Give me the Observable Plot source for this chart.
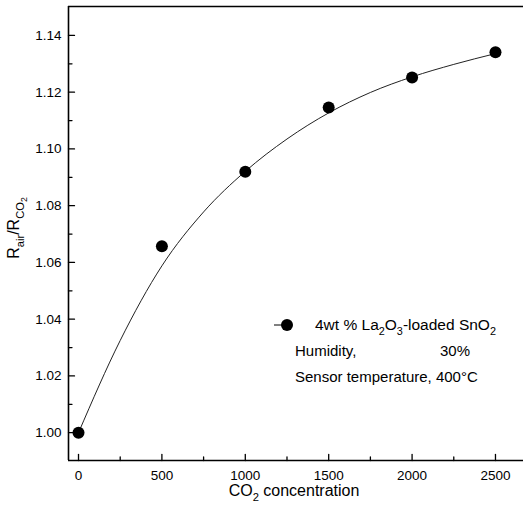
<!DOCTYPE html>
<html><head><meta charset="utf-8">
<script src="https://cdn.jsdelivr.net/npm/d3@7"></script>
<script src="https://cdn.jsdelivr.net/npm/@observablehq/plot@0.6"></script>
<style>body{margin:0;background:#fff} svg{display:block}</style>
</head><body><div id="chart"></div>
<script>
// Measured data points
const concentration = [0, 500, 1000, 1500, 2000, 2500];
const ratio = [1.000, 1.0657, 1.0920, 1.1146, 1.1252, 1.1341];
// Fitted curve
const fitConcentration = [0, 250, 500, 750, 1000, 1250, 1500, 1750, 2000, 2250, 2500];
const fitRatio = [1.000, 1.0325, 1.0588, 1.0778, 1.0921, 1.1035, 1.1127, 1.1199, 1.1254, 1.1298, 1.1336];
// Ticks
const xTicks = [0, 500, 1000, 1500, 2000, 2500];
const xMinorTicks = [250, 750, 1250, 1750, 2250];
const yTicks = [1.00, 1.02, 1.04, 1.06, 1.08, 1.10, 1.12, 1.14];
const yMinorTicks = [1.01, 1.03, 1.05, 1.07, 1.09, 1.11, 1.13];
const xDomain = [-60, 2668];
const yDomain = [0.9902, 1.1502];

const points = concentration.map((c, i) => ({c, r: ratio[i]}));
const fit = fitConcentration.map((c, i) => ({c, r: fitRatio[i]}));

const inwardTick = {draw(context, l) { context.moveTo(0, 0); context.lineTo(0, -l); }};
const FONT = "'Liberation Sans', Arial, Helvetica, sans-serif";

const plot = Plot.plot({
  width: 523, height: 506,
  marginLeft: 68, marginRight: 0, marginTop: 6, marginBottom: 46,
  style: {fontFamily: FONT, fontSize: "13.5px", color: "black", background: "white", overflow: "visible"},
  x: {domain: xDomain},
  y: {domain: yDomain},
  marks: [
    Plot.axisX(xTicks, {anchor: "bottom", tickSize: 0, tickPadding: 10, tickFormat: d => String(d), label: null, fontSize: 13.5}),
    Plot.axisY(yTicks, {anchor: "left", tickSize: 0, tickPadding: 7, tickFormat: d3.format(".2f"), label: null, fontSize: 13.5}),
    Plot.vector(yTicks, {x: xDomain[0], y: d => d, length: 6, rotate: 90, anchor: "start", shape: inwardTick, stroke: "black", strokeWidth: 1.3}),
    Plot.vector(yMinorTicks, {x: xDomain[0], y: d => d, length: 3.5, rotate: 90, anchor: "start", shape: inwardTick, stroke: "black", strokeWidth: 1.3}),
    Plot.vector(xTicks, {x: d => d, y: yDomain[0], length: 6, rotate: 0, anchor: "start", shape: inwardTick, stroke: "black", strokeWidth: 1.3}),
    Plot.vector(xMinorTicks, {x: d => d, y: yDomain[0], length: 3.5, rotate: 0, anchor: "start", shape: inwardTick, stroke: "black", strokeWidth: 1.3}),
    Plot.ruleY([yDomain[1]], {stroke: "black", strokeWidth: 1.6}),
    Plot.ruleY([yDomain[0]], {stroke: "black", strokeWidth: 1.6}),
    Plot.ruleX([xDomain[0]], {stroke: "black", strokeWidth: 1.6}),
    Plot.line(fit, {x: "c", y: "r", curve: "monotone-x", stroke: "#222", strokeWidth: 1}),
    Plot.dot(points, {x: "c", y: "r", r: 6, fill: "black", stroke: "none"})
  ]
});

document.getElementById("chart").appendChild(plot);
const svg = d3.select(plot);

function rich(parent, x, y, parts, size, anchor) {
  const offs = [0, 0.3 * size, 0.5 * size];
  const scales = [1, 0.7, 0.55];
  const t = parent.append("text").attr("x", x).attr("y", y)
    .attr("font-family", FONT).attr("font-size", size).attr("fill", "black")
    .attr("text-anchor", anchor || "start");
  let prev = 0;
  for (const [s, lvl] of parts) {
    t.append("tspan").attr("font-size", size * scales[lvl]).attr("dy", offs[lvl] - offs[prev]).text(s);
    prev = lvl;
  }
  return t;
}

// Axis labels
rich(svg, 294, 496, [["CO", 0], ["2", 1], [" concentration", 0]], 16, "middle");
const yl = svg.append("g").attr("transform", "translate(19,228) rotate(-90)");
rich(yl, 0, 0, [["R", 0], ["air", 1], ["/R", 0], ["CO", 1], ["2", 2]], 16, "middle");

// Legend
const lg = svg.append("g");
lg.append("line").attr("x1", 274).attr("x2", 290).attr("y1", 325).attr("y2", 325).attr("stroke", "black").attr("stroke-width", 1);
lg.append("circle").attr("cx", 287).attr("cy", 325).attr("r", 6).attr("fill", "black");
rich(lg, 315, 330, [["4wt % La", 0], ["2", 1], ["O", 0], ["3", 1], ["-loaded SnO", 0], ["2", 1]], 15.5);
rich(lg, 295, 356, [["Humidity,", 0]], 15);
rich(lg, 440, 356, [["30%", 0]], 15);
rich(lg, 295, 382, [["Sensor temperature, 400°C", 0]], 15);
</script>
</body></html>
